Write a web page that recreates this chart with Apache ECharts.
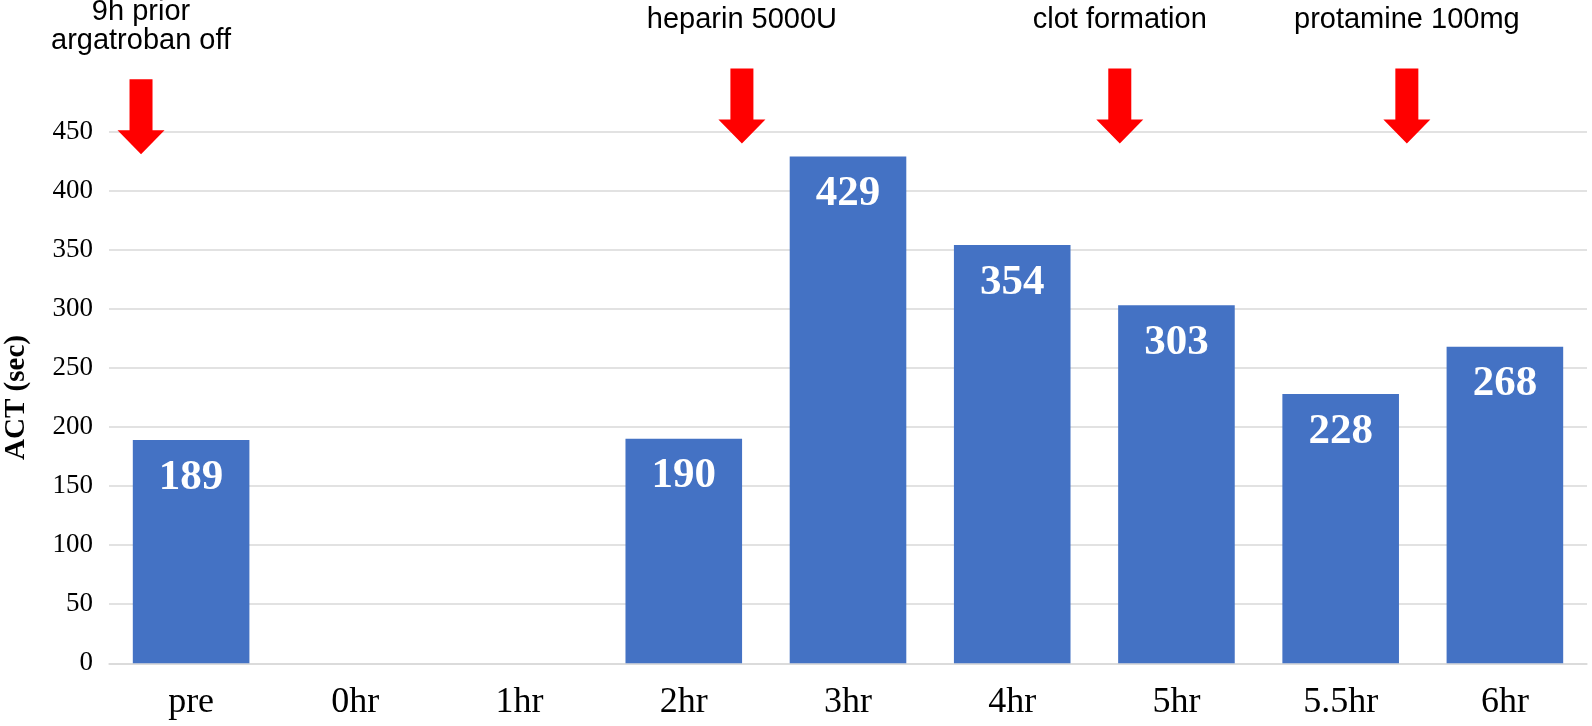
<!DOCTYPE html>
<html>
<head>
<meta charset="utf-8">
<script src="https://cdn.jsdelivr.net/npm/echarts@6/dist/echarts.min.js"></script>
<style>
html,body{margin:0;padding:0;background:#fff;}
#chart{width:1592px;height:726px;}
</style>
</head>
<body>
<div id="chart"></div>
<script>
// ---- data ----
const categories = ['pre', '0hr', '1hr', '2hr', '3hr', '4hr', '5hr', '5.5hr', '6hr'];
const actValues = [189, null, null, 190, 429, 354, 303, 228, 268];
const yTicks = { min: 0, max: 450, interval: 50 };
// annotation arrows: x in category units (0..9 across the plot), y = tip value
const eventTexts = ['9h prior\nargatroban off', 'heparin 5000U', 'clot formation', 'protamine 100mg'];
const eventX = [0.195, 3.854, 6.155, 7.903];
const eventTipY = [431, 440, 440, 440];

const serif = '"Liberation Serif", "Times New Roman", serif';
const sans = '"Liberation Sans", Arial, Helvetica, sans-serif';
const arrowPath = 'path://M12,0 L35,0 L35,51 L47,51 L23.5,75 L0,51 L12,51 Z';

const labelDist = [24, 34, 34, 34];

const chart = echarts.init(document.getElementById('chart'));
chart.setOption({
  animation: false,
  backgroundColor: '#ffffff',
  grid: { left: 109, right: 5, top: 131.7, bottom: 62.7, containLabel: false, outerBoundsMode: 'none' },
  xAxis: [
    {
      type: 'category',
      data: categories,
      axisLine: { show: true, lineStyle: { color: '#d9d9d9', width: 1.5 } },
      axisTick: { show: false },
      axisLabel: { fontFamily: serif, fontSize: 36, color: '#000', margin: 21, lineHeight: 36 },
      splitLine: { show: false }
    },
    {
      type: 'value', min: 0, max: 9, show: false, position: 'bottom'
    }
  ],
  yAxis: {
    type: 'value',
    min: yTicks.min, max: yTicks.max, interval: yTicks.interval,
    name: 'ACT (sec)',
    nameLocation: 'middle',
    nameGap: 78,
    nameRotate: 90,
    nameTextStyle: { fontFamily: serif, fontWeight: 'bold', fontSize: 29, color: '#000' },
    axisLine: { show: false },
    axisTick: { show: false },
    axisLabel: { fontFamily: serif, fontSize: 27, color: '#000', margin: 16 },
    splitLine: { lineStyle: { color: '#d9d9d9', width: 1.5 } }
  },
  series: [
    {
      type: 'bar',
      xAxisIndex: 0,
      data: actValues,
      barCategoryGap: '29%',
      itemStyle: { color: '#4472C4' },
      label: {
        show: true,
        position: 'insideTop',
        distance: 16,
        fontFamily: serif,
        fontWeight: 'bold',
        fontSize: 43,
        lineHeight: 43,
        color: '#ffffff'
      }
    },
    {
      type: 'scatter',
      xAxisIndex: 1,
      clip: false,
      symbol: arrowPath,
      symbolSize: [47, 75],
      symbolOffset: [0, '-50%'],
      symbolKeepAspect: false,
      itemStyle: { color: '#ff0000', opacity: 1 },
      data: eventX.map((x, i) => ({
        value: [x, eventTipY[i]],
        label: { distance: labelDist[i] }
      })),
      label: {
        show: true,
        position: 'top',
        formatter: (p) => eventTexts[p.dataIndex],
        fontFamily: sans,
        fontSize: 29,
        lineHeight: 29,
        color: '#000000',
        align: 'center'
      },
      emphasis: { disabled: true },
      z: 5
    }
  ]
});
</script>
</body>
</html>
